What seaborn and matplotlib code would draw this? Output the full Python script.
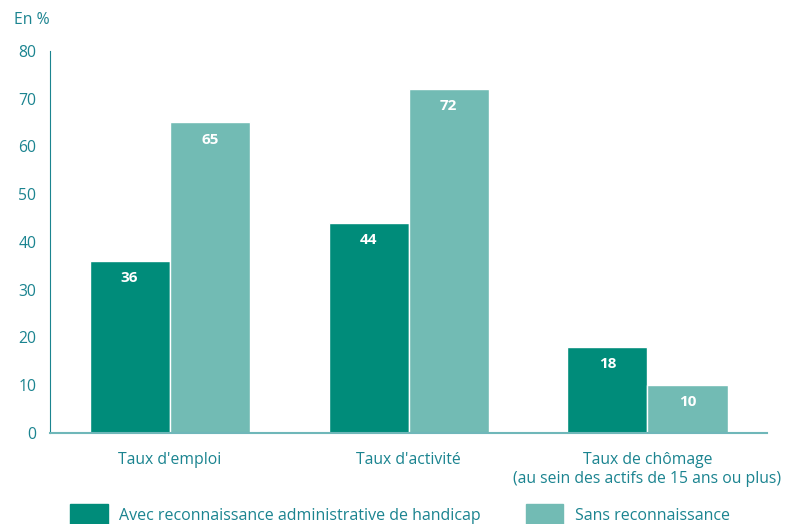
import pandas as pd
import seaborn as sns
import matplotlib.pyplot as plt
from matplotlib.patches import Patch

# donnees
categories = ["Taux d'emploi", "Taux d'activité",
              "Taux de chômage\n(au sein des actifs de 15 ans ou plus)"]
avec_rah = [36, 44, 18]
sans_rah = [65, 72, 10]
series = ["Avec reconnaissance administrative de handicap", "Sans reconnaissance"]

df = pd.DataFrame({
    'categorie': categories * 2,
    'groupe': [series[0]] * 3 + [series[1]] * 3,
    'valeur': avec_rah + sans_rah,
})

sns.set_style('white')
plt.rcParams['font.family'] = ['Open Sans', 'DejaVu Sans']
teal_txt = '#1b8490'
couleurs = ['#008c7a', '#72bbb4']

fig = plt.figure(figsize=(7.85, 5.24), dpi=100)
ax = fig.add_axes([0.064, 0.174, 0.913, 0.729])

sns.barplot(data=df, x='categorie', y='valeur', hue='groupe', palette=couleurs,
            width=0.67, saturation=1, legend=False, ax=ax)

for cont in ax.containers:
    for bar in cont:
        h = bar.get_height()
        ax.text(bar.get_x() + bar.get_width() / 2, h - 3.6, f'{h:.0f}',
                ha='center', va='center', color='white', fontsize=11, fontweight='bold')

ax.set_xlim(-0.5, 2.5)
ax.set_ylim(0, 80)
ax.set_yticks(range(0, 81, 10))
ax.set_xlabel('')
ax.set_ylabel('')
ax.set_xticks([0, 1, 2])
ax.set_xticklabels(categories)
ax.set_xticks([-0.5, 0.5, 1.5, 2.5], minor=True)
ax.tick_params(axis='x', which='major', length=0, pad=14, colors=teal_txt, labelsize=11.3)
ax.tick_params(axis='x', which='minor', length=5, direction='out', color=teal_txt, width=1)
ax.tick_params(axis='y', length=5, direction='out', color=teal_txt, colors=teal_txt,
               labelsize=11.3, width=1, pad=5)

for s in ['top', 'right']:
    ax.spines[s].set_visible(False)
ax.spines['left'].set_color(teal_txt)
ax.spines['bottom'].set_color('#6fb7b9')
ax.spines['bottom'].set_linewidth(1.5)

fig.text(0.018, 0.955, 'En %', color=teal_txt, fontsize=11.3)

handles = [Patch(color=couleurs[0]), Patch(color=couleurs[1])]
fig.legend(handles, series, loc='upper left', bbox_to_anchor=(0.081, 0.05), ncol=2,
           frameon=False, handlelength=2.35, handleheight=1.6, handletextpad=0.75,
           columnspacing=2.8, labelcolor=teal_txt, fontsize=11.5, borderaxespad=0)

plt.savefig('out.png', dpi=100)
